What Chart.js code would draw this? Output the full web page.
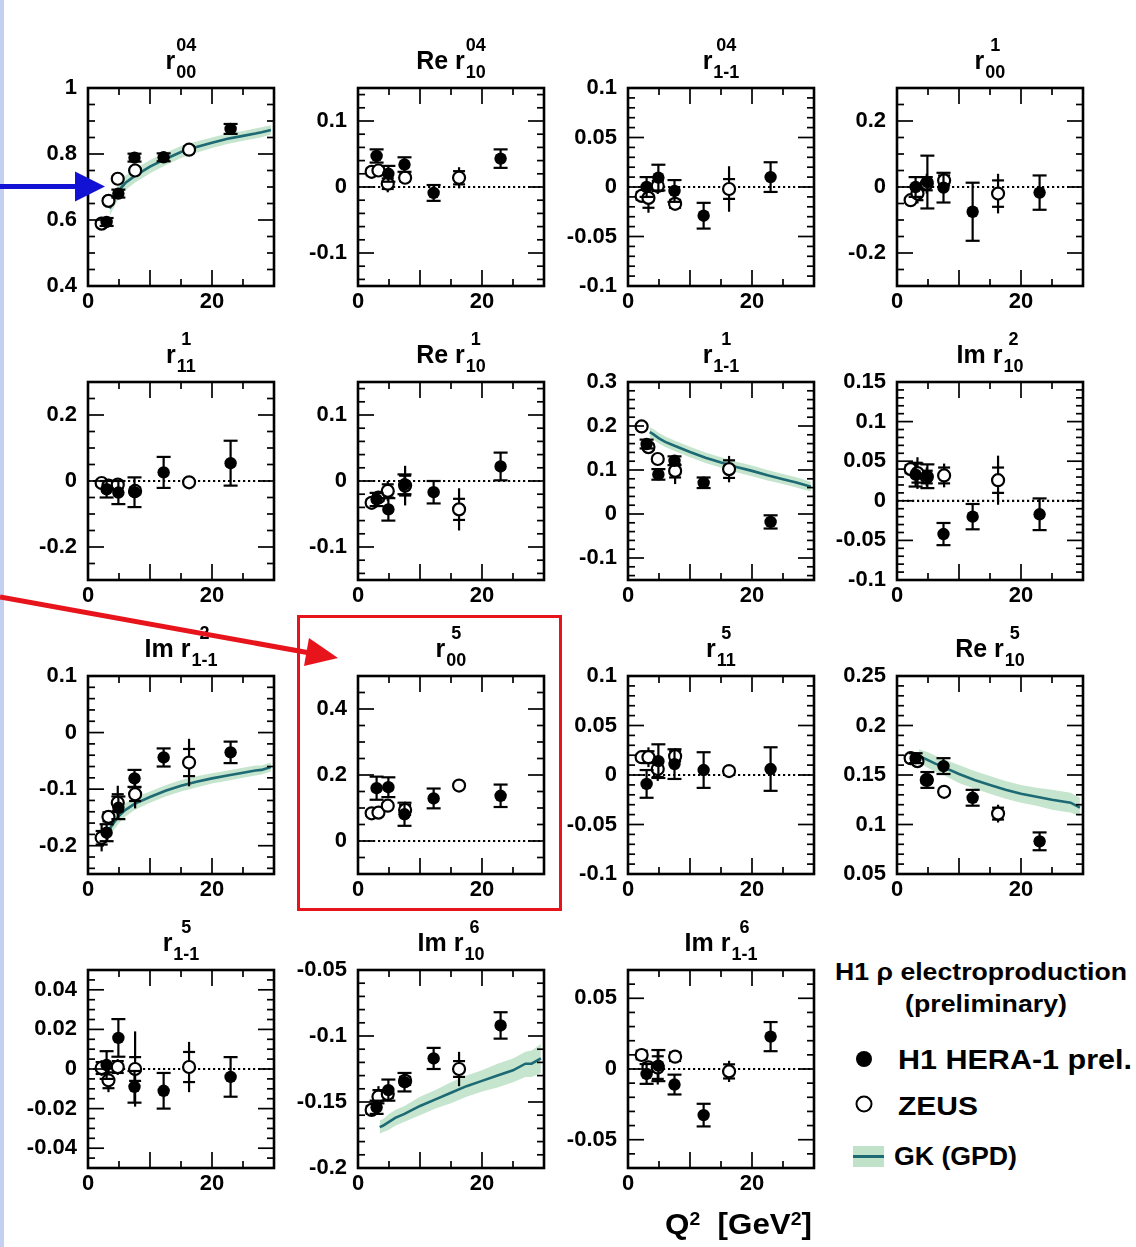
<!DOCTYPE html>
<html>
<head>
<meta charset="utf-8">
<title>H1 rho electroproduction SDMEs vs Q2</title>
<script src="https://cdn.jsdelivr.net/npm/chart.js@4.4.1/dist/chart.umd.min.js"></script>
<style>
  html, body { margin: 0; padding: 0; background: #fff; }
  #page { position: relative; width: 1136px; height: 1247px; overflow: hidden; background: #fff;
          font-family: "Liberation Sans", Arial, Helvetica, sans-serif; font-weight: bold; color: #000; }
  canvas.pane { position: absolute; }
  .ttl { position: absolute; display: flex; justify-content: center; align-items: flex-start; white-space: nowrap; }
  .ttl .main { font-size: 25px; line-height: 25px; margin-top: 15px; }
  .ttl .scr { display: flex; flex-direction: column; align-items: center; font-size: 18px; line-height: 18px;
              margin-top: 3px; gap: 9px; margin-left: 1px; }
  .txt { position: absolute; white-space: nowrap; transform-origin: 0 0; }
  .txt sup { position: relative; top: -0.48em; font-size: 0.62em; vertical-align: baseline; line-height: 0; }
  #marks { position: absolute; left: 0; top: 0; pointer-events: none; }
</style>
</head>
<body>
<div id="page"></div>
<script>
// ---------------- data ----------------
// Q2 bin centres (GeV^2)
const q2H1   = [3.0, 4.9, 7.5, 12.2, 23.0];
const q2ZEUS = [2.2, 3.3, 4.8, 7.6, 16.3];
const q2GK   = [3.5, 4, 5, 6, 7.5, 10, 12.5, 15, 17.5, 20, 22.5, 25, 27, 28, 29.5];

// x axis ticks (labelled only at 0 and 20)
const xTickVals   = [0, 10, 20, 30];
const xTickLabels = ['0', '', '20', ''];

// r^04_00
const yt_r04_00  = [0.4, 0.6, 0.8, 1];
const h1_r04_00  = [0.594, 0.680, 0.789, 0.790, 0.876];
const h1e_r04_00 = [0.012, 0.012, 0.012, 0.012, 0.015];
const zs_r04_00  = [0.589, 0.658, 0.725, 0.750, 0.813];
const zse_r04_00 = [0.012, 0.012, 0.012, 0.012, 0.015];
const zss_r04_00 = [0.008, 0.008, 0.008, 0.008, 0.010];
const gk_r04_00   = [0.635, 0.655, 0.690, 0.712, 0.733, 0.762, 0.785, 0.806, 0.821, 0.834, 0.846, 0.855, 0.862, 0.866, 0.873];
const gkLo_r04_00 = [0.612, 0.632, 0.667, 0.690, 0.712, 0.742, 0.766, 0.788, 0.804, 0.818, 0.830, 0.840, 0.847, 0.851, 0.859];
const gkHi_r04_00 = [0.658, 0.678, 0.713, 0.734, 0.754, 0.782, 0.804, 0.824, 0.838, 0.850, 0.862, 0.870, 0.877, 0.881, 0.887];

// Re r^04_10
const yt_re04_10  = [-0.1, 0, 0.1];
const h1_re04_10  = [0.047, 0.020, 0.034, -0.009, 0.043];
const h1e_re04_10 = [0.010, 0.012, 0.011, 0.012, 0.014];
const zs_re04_10  = [0.023, 0.025, 0.005, 0.014, 0.014];
const zse_re04_10 = [0.008, 0.008, 0.013, 0.008, 0.016];
const zss_re04_10 = [0.005, 0.005, 0.008, 0.005, 0.010];

// r^04_1-1
const yt_r04_1m1  = [-0.1, -0.05, 0, 0.05, 0.1];
const h1_r04_1m1  = [0.000, 0.0095, -0.004, -0.029, 0.010];
const h1e_r04_1m1 = [0.010, 0.013, 0.011, 0.013, 0.015];
const zs_r04_1m1  = [-0.009, -0.011, 0.001, -0.017, -0.002];
const zse_r04_1m1 = [0.006, 0.015, 0.008, 0.006, 0.023];
const zss_r04_1m1 = [0.004, 0.010, 0.005, 0.004, 0.010];

// r^1_00
const yt_r1_00  = [-0.2, 0, 0.2];
const h1_r1_00  = [0.000, 0.015, -0.002, -0.075, -0.017];
const h1e_r1_00 = [0.030, 0.080, 0.045, 0.088, 0.052];
const zs_r1_00  = [-0.040, -0.020, 0.010, 0.020, -0.020];
const zse_r1_00 = [0.012, 0.030, 0.030, 0.025, 0.060];
const zss_r1_00 = [0.008, 0.020, 0.020, 0.015, 0.040];

// r^1_11
const yt_r1_11  = [-0.2, 0, 0.2];
const h1_r1_11  = [-0.025, -0.035, -0.034, 0.026, 0.054];
const h1e_r1_11 = [0.025, 0.035, 0.045, 0.047, 0.068];
const zs_r1_11  = [-0.006, -0.014, -0.011, -0.030, -0.004];
const zse_r1_11 = [0.012, 0.015, 0.015, 0.015, 0.012];
const zss_r1_11 = [0.008, 0.010, 0.010, 0.010, 0.008];

// Re r^1_10
const yt_re1_10  = [-0.1, 0, 0.1];
const h1_re1_10  = [-0.028, -0.043, -0.005, -0.017, 0.022];
const h1e_re1_10 = [0.010, 0.017, 0.015, 0.017, 0.021];
const zs_re1_10  = [-0.033, -0.025, -0.015, -0.007, -0.043];
const zse_re1_10 = [0.008, 0.008, 0.015, 0.030, 0.032];
const zss_re1_10 = [0.005, 0.005, 0.010, 0.015, 0.016];

// r^1_1-1
const yt_r1_1m1  = [-0.1, 0, 0.1, 0.2, 0.3];
const h1_r1_1m1  = [0.159, 0.090, 0.121, 0.071, -0.018];
const h1e_r1_1m1 = [0.010, 0.012, 0.010, 0.012, 0.015];
const zs_r1_1m1  = [0.199, 0.152, 0.125, 0.098, 0.102];
const zse_r1_1m1 = [0.010, 0.010, 0.010, 0.030, 0.030];
const zss_r1_1m1 = [0.006, 0.006, 0.006, 0.015, 0.020];
const gk_r1_1m1   = [0.186, 0.182, 0.172, 0.164, 0.155, 0.141, 0.128, 0.117, 0.107, 0.098, 0.088, 0.079, 0.072, 0.068, 0.062];
const gkLo_r1_1m1 = [0.174, 0.170, 0.160, 0.152, 0.143, 0.129, 0.116, 0.105, 0.095, 0.086, 0.076, 0.068, 0.061, 0.057, 0.051];
const gkHi_r1_1m1 = [0.198, 0.194, 0.184, 0.176, 0.167, 0.153, 0.140, 0.129, 0.119, 0.110, 0.100, 0.091, 0.084, 0.080, 0.073];

// Im r^2_10
const yt_im2_10  = [-0.1, -0.05, 0, 0.05, 0.1, 0.15];
const h1_im2_10  = [0.033, 0.031, -0.042, -0.020, -0.017];
const h1e_im2_10 = [0.015, 0.015, 0.014, 0.016, 0.020];
const zs_im2_10  = [0.040, 0.035, 0.030, 0.032, 0.026];
const zse_im2_10 = [0.008, 0.020, 0.012, 0.015, 0.031];
const zss_im2_10 = [0.005, 0.012, 0.008, 0.010, 0.016];

// Im r^2_1-1
const yt_im2_1m1  = [-0.2, -0.1, 0, 0.1];
const h1_im2_1m1  = [-0.177, -0.133, -0.081, -0.044, -0.035];
const h1e_im2_1m1 = [0.015, 0.020, 0.015, 0.016, 0.019];
const zs_im2_1m1  = [-0.186, -0.149, -0.124, -0.109, -0.053];
const zse_im2_1m1 = [0.024, 0.012, 0.030, 0.025, 0.042];
const zss_im2_1m1 = [0.012, 0.008, 0.015, 0.012, 0.024];
const gk_im2_1m1   = [-0.170, -0.162, -0.147, -0.137, -0.126, -0.114, -0.103, -0.094, -0.087, -0.081, -0.076, -0.071, -0.067, -0.066, -0.061];
const gkLo_im2_1m1 = [-0.183, -0.175, -0.160, -0.149, -0.137, -0.124, -0.113, -0.104, -0.097, -0.090, -0.085, -0.080, -0.076, -0.074, -0.069];
const gkHi_im2_1m1 = [-0.157, -0.149, -0.134, -0.125, -0.115, -0.104, -0.093, -0.084, -0.077, -0.072, -0.067, -0.062, -0.058, -0.058, -0.053];

// r^5_00
const yt_r5_00  = [0, 0.2, 0.4];
const h1_r5_00  = [0.160, 0.163, 0.081, 0.129, 0.137];
const h1e_r5_00 = [0.035, 0.030, 0.035, 0.030, 0.034];
const zs_r5_00  = [0.084, 0.086, 0.107, 0.094, 0.168];
const zse_r5_00 = [0.012, 0.012, 0.012, 0.025, 0.012];
const zss_r5_00 = [0.008, 0.008, 0.008, 0.015, 0.008];

// r^5_11
const yt_r5_11  = [-0.1, -0.05, 0, 0.05, 0.1];
const h1_r5_11  = [-0.009, 0.014, 0.011, 0.005, 0.006];
const h1e_r5_11 = [0.014, 0.017, 0.015, 0.018, 0.022];
const zs_r5_11  = [0.018, 0.018, 0.006, 0.019, 0.004];
const zse_r5_11 = [0.005, 0.010, 0.012, 0.008, 0.005];
const zss_r5_11 = [0.003, 0.006, 0.008, 0.005, 0.003];

// Re r^5_10
const yt_re5_10  = [0.05, 0.1, 0.15, 0.2, 0.25];
const h1_re5_10  = [0.167, 0.145, 0.159, 0.127, 0.083];
const h1e_re5_10 = [0.005, 0.008, 0.008, 0.008, 0.009];
const zs_re5_10  = [0.167, 0.164, 0.145, 0.133, 0.111];
const zse_re5_10 = [0.005, 0.005, 0.005, 0.005, 0.009];
const zss_re5_10 = [0.003, 0.003, 0.003, 0.003, 0.006];
const gk_re5_10   = [0.169, 0.168, 0.165, 0.162, 0.158, 0.151, 0.145, 0.140, 0.135, 0.131, 0.128, 0.125, 0.123, 0.122, 0.117];
const gkLo_re5_10 = [0.162, 0.161, 0.157, 0.154, 0.150, 0.142, 0.136, 0.131, 0.126, 0.122, 0.119, 0.115, 0.113, 0.112, 0.108];
const gkHi_re5_10 = [0.176, 0.175, 0.173, 0.170, 0.166, 0.160, 0.154, 0.149, 0.144, 0.140, 0.137, 0.135, 0.133, 0.132, 0.127];

// r^5_1-1
const yt_r5_1m1  = [-0.04, -0.02, 0, 0.02, 0.04];
const h1_r5_1m1  = [0.002, 0.0157, -0.009, -0.011, -0.004];
const h1e_r5_1m1 = [0.007, 0.0095, 0.008, 0.009, 0.010];
const zs_r5_1m1  = [0.0005, -0.0057, 0.001, 0.000, 0.001];
const zse_r5_1m1 = [0.004, 0.006, 0.004, 0.019, 0.0127];
const zss_r5_1m1 = [0.003, 0.004, 0.003, 0.006, 0.0076];

// Im r^6_10
const yt_im6_10  = [-0.2, -0.15, -0.1, -0.05];
const h1_im6_10  = [-0.154, -0.141, -0.135, -0.117, -0.092];
const h1e_im6_10 = [0.005, 0.008, 0.007, 0.008, 0.010];
const zs_im6_10  = [-0.156, -0.146, -0.144, -0.134, -0.125];
const zse_im6_10 = [0.004, 0.008, 0.005, 0.005, 0.013];
const zss_im6_10 = [0.003, 0.005, 0.003, 0.003, 0.006];
const gk_im6_10   = [-0.169, -0.168, -0.165, -0.162, -0.159, -0.153, -0.148, -0.143, -0.138, -0.134, -0.130, -0.126, -0.121, -0.121, -0.117];
const gkLo_im6_10 = [-0.174, -0.173, -0.171, -0.168, -0.165, -0.160, -0.155, -0.151, -0.146, -0.142, -0.139, -0.135, -0.131, -0.131, -0.128];
const gkHi_im6_10 = [-0.164, -0.163, -0.159, -0.156, -0.153, -0.146, -0.141, -0.135, -0.130, -0.126, -0.121, -0.117, -0.112, -0.111, -0.106];

// Im r^6_1-1
const yt_im6_1m1  = [-0.05, 0, 0.05];
const h1_im6_1m1  = [-0.0035, 0.0024, -0.011, -0.0326, 0.0229];
const h1e_im6_1m1 = [0.007, 0.011, 0.007, 0.008, 0.0103];
const zs_im6_1m1  = [0.0099, 0.0012, 0.001, 0.0087, -0.0017];
const zse_im6_1m1 = [0.004, 0.004, 0.012, 0.004, 0.0075];
const zss_im6_1m1 = [0.003, 0.003, 0.008, 0.003, 0.005];

// ---------------- panel setup ----------------
const panels = [
  { title: ['r', '04', '00'],     col: 0, row: 0, yMin: 0.4,   yMax: 1,     minor: 0.05,  zero: false, yt: yt_r04_00,  h1: h1_r04_00,  h1e: h1e_r04_00,  zs: zs_r04_00,  zse: zse_r04_00,  zss: zss_r04_00, gk: gk_r04_00, gkLo: gkLo_r04_00, gkHi: gkHi_r04_00 },
  { title: ['Re r', '04', '10'],  col: 1, row: 0, yMin: -0.15, yMax: 0.15,  minor: 0.02,  zero: true,  yt: yt_re04_10, h1: h1_re04_10, h1e: h1e_re04_10, zs: zs_re04_10, zse: zse_re04_10, zss: zss_re04_10 },
  { title: ['r', '04', '1-1'],    col: 2, row: 0, yMin: -0.1,  yMax: 0.1,   minor: 0.01,  zero: true,  yt: yt_r04_1m1, h1: h1_r04_1m1, h1e: h1e_r04_1m1, zs: zs_r04_1m1, zse: zse_r04_1m1, zss: zss_r04_1m1 },
  { title: ['r', '1', '00'],      col: 3, row: 0, yMin: -0.3,  yMax: 0.3,   minor: 0.05,  zero: true,  yt: yt_r1_00,   h1: h1_r1_00,   h1e: h1e_r1_00,   zs: zs_r1_00,   zse: zse_r1_00,   zss: zss_r1_00 },
  { title: ['r', '1', '11'],      col: 0, row: 1, yMin: -0.3,  yMax: 0.3,   minor: 0.05,  zero: true,  yt: yt_r1_11,   h1: h1_r1_11,   h1e: h1e_r1_11,   zs: zs_r1_11,   zse: zse_r1_11,   zss: zss_r1_11 },
  { title: ['Re r', '1', '10'],   col: 1, row: 1, yMin: -0.15, yMax: 0.15,  minor: 0.02,  zero: true,  yt: yt_re1_10,  h1: h1_re1_10,  h1e: h1e_re1_10,  zs: zs_re1_10,  zse: zse_re1_10,  zss: zss_re1_10 },
  { title: ['r', '1', '1-1'],     col: 2, row: 1, yMin: -0.15, yMax: 0.3,   minor: 0.02,  zero: false, yt: yt_r1_1m1,  h1: h1_r1_1m1,  h1e: h1e_r1_1m1,  zs: zs_r1_1m1,  zse: zse_r1_1m1,  zss: zss_r1_1m1, gk: gk_r1_1m1, gkLo: gkLo_r1_1m1, gkHi: gkHi_r1_1m1 },
  { title: ['Im r', '2', '10'],   col: 3, row: 1, yMin: -0.1,  yMax: 0.15,  minor: 0.01,  zero: true,  yt: yt_im2_10,  h1: h1_im2_10,  h1e: h1e_im2_10,  zs: zs_im2_10,  zse: zse_im2_10,  zss: zss_im2_10 },
  { title: ['Im r', '2', '1-1'],  col: 0, row: 2, yMin: -0.25, yMax: 0.1,   minor: 0.02,  zero: false, yt: yt_im2_1m1, h1: h1_im2_1m1, h1e: h1e_im2_1m1, zs: zs_im2_1m1, zse: zse_im2_1m1, zss: zss_im2_1m1, gk: gk_im2_1m1, gkLo: gkLo_im2_1m1, gkHi: gkHi_im2_1m1 },
  { title: ['r', '5', '00'],      col: 1, row: 2, yMin: -0.1,  yMax: 0.5,   minor: 0.05,  zero: true,  yt: yt_r5_00,   h1: h1_r5_00,   h1e: h1e_r5_00,   zs: zs_r5_00,   zse: zse_r5_00,   zss: zss_r5_00 },
  { title: ['r', '5', '11'],      col: 2, row: 2, yMin: -0.1,  yMax: 0.1,   minor: 0.01,  zero: true,  yt: yt_r5_11,   h1: h1_r5_11,   h1e: h1e_r5_11,   zs: zs_r5_11,   zse: zse_r5_11,   zss: zss_r5_11 },
  { title: ['Re r', '5', '10'],   col: 3, row: 2, yMin: 0.05,  yMax: 0.25,  minor: 0.01,  zero: false, yt: yt_re5_10,  h1: h1_re5_10,  h1e: h1e_re5_10,  zs: zs_re5_10,  zse: zse_re5_10,  zss: zss_re5_10, gk: gk_re5_10, gkLo: gkLo_re5_10, gkHi: gkHi_re5_10 },
  { title: ['r', '5', '1-1'],     col: 0, row: 3, yMin: -0.05, yMax: 0.05,  minor: 0.005, zero: true,  yt: yt_r5_1m1,  h1: h1_r5_1m1,  h1e: h1e_r5_1m1,  zs: zs_r5_1m1,  zse: zse_r5_1m1,  zss: zss_r5_1m1 },
  { title: ['Im r', '6', '10'],   col: 1, row: 3, yMin: -0.2,  yMax: -0.05, minor: 0.01,  zero: false, yt: yt_im6_10,  h1: h1_im6_10,  h1e: h1e_im6_10,  zs: zs_im6_10,  zse: zse_im6_10,  zss: zss_im6_10, gk: gk_im6_10, gkLo: gkLo_im6_10, gkHi: gkHi_im6_10 },
  { title: ['Im r', '6', '1-1'],  col: 2, row: 3, yMin: -0.07, yMax: 0.07,  minor: 0.01,  zero: true,  yt: yt_im6_1m1, h1: h1_im6_1m1, h1e: h1e_im6_1m1, zs: zs_im6_1m1, zse: zse_im6_1m1, zss: zss_im6_1m1 }
];

// frame geometry of the 4x4 grid
const FRAME_L = [88, 358, 628, 897];
const FRAME_T = [88, 382, 676, 970];
const FRAME_W = 186, FRAME_H = 198;
const AX_W = 80, AX_H = 40, PAD_T = 28, PAD_R = 12;
const TICK_FONT = 22;

const GK_LINE = '#1d6a74';
const GK_BAND = 'rgba(150, 208, 165, 0.55)';

Chart.defaults.font.family = "'Liberation Sans', Arial, Helvetica, sans-serif";
Chart.defaults.font.weight = 'bold';
Chart.defaults.font.size = TICK_FONT;
Chart.defaults.color = '#000';

const page = document.getElementById('page');

// error bars: H1 with end caps, ZEUS with small stat ticks
const errorBars = {
  id: 'errorBars',
  beforeDatasetDraw(chart, args) {
    const ds = chart.data.datasets[args.index];
    if (!ds.errs) return;
    const { ctx, chartArea } = chart;
    const xs = chart.scales.x, ys = chart.scales.y;
    ctx.save();
    ctx.beginPath();
    ctx.rect(chartArea.left, chartArea.top, chartArea.right - chartArea.left, chartArea.bottom - chartArea.top);
    ctx.clip();
    ctx.strokeStyle = '#000';
    ctx.lineWidth = 2.2;
    const seg = (x1, y1, x2, y2) => { ctx.beginPath(); ctx.moveTo(x1, y1); ctx.lineTo(x2, y2); ctx.stroke(); };
    ds.data.forEach((p, i) => {
      const px = xs.getPixelForValue(p.x);
      const e = ds.errs[i];
      const yLo = ys.getPixelForValue(p.y - e), yHi = ys.getPixelForValue(p.y + e);
      seg(px, yLo, px, yHi);
      if (ds.caps) { seg(px - 7, yLo, px + 7, yLo); seg(px - 7, yHi, px + 7, yHi); }
      if (ds.stat) {
        const s = ds.stat[i];
        const sLo = ys.getPixelForValue(p.y - s), sHi = ys.getPixelForValue(p.y + s);
        seg(px - 6, sLo, px + 6, sLo); seg(px - 6, sHi, px + 6, sHi);
      }
    });
    ctx.restore();
  }
};

function framePlugin(p) {
  return {
    id: 'frame',
    beforeDatasetsDraw(chart) {
      if (!p.zero) return;
      const { ctx, chartArea } = chart;
      const y0 = chart.scales.y.getPixelForValue(0);
      ctx.save();
      ctx.strokeStyle = '#000';
      ctx.lineWidth = 2.2;
      ctx.setLineDash([2.2, 2.8]);
      ctx.beginPath();
      ctx.moveTo(chartArea.left, y0);
      ctx.lineTo(chartArea.right, y0);
      ctx.stroke();
      ctx.restore();
    },
    afterDatasetsDraw(chart) {
      const { ctx, chartArea: a } = chart;
      const xs = chart.scales.x, ys = chart.scales.y;
      ctx.save();
      ctx.strokeStyle = '#000';
      ctx.lineWidth = 1.7;
      const seg = (x1, y1, x2, y2) => { ctx.beginPath(); ctx.moveTo(x1, y1); ctx.lineTo(x2, y2); ctx.stroke(); };
      // y ticks on both sides, pointing inwards
      const i0 = Math.ceil(p.yMin / p.minor - 1e-6), i1 = Math.floor(p.yMax / p.minor + 1e-6);
      for (let i = i0; i <= i1; i++) {
        const v = i * p.minor;
        const major = p.yt.some(t => Math.abs(t - v) < p.minor * 0.01);
        const len = major ? 16 : 7;
        const py = ys.getPixelForValue(v);
        seg(a.left, py, a.left + len, py);
        seg(a.right, py, a.right - len, py);
      }
      // x ticks top and bottom
      for (let v = 5; v < 30; v += 5) {
        const len = v % 10 === 0 ? 16 : 7;
        const px = xs.getPixelForValue(v);
        seg(px, a.bottom, px, a.bottom - len);
        seg(px, a.top, px, a.top + len);
      }
      ctx.lineWidth = 2.6;
      ctx.strokeRect(a.left, a.top, a.right - a.left, a.bottom - a.top);
      ctx.restore();
    }
  };
}

function pts(xv, yv) { return xv.map((x, i) => ({ x, y: yv[i] })); }

panels.forEach(p => {
  const cv = document.createElement('canvas');
  cv.className = 'pane';
  const w = AX_W + FRAME_W + PAD_R, h = PAD_T + FRAME_H + AX_H;
  cv.width = w; cv.height = h;
  cv.style.width = w + 'px'; cv.style.height = h + 'px';
  cv.style.left = (FRAME_L[p.col] - AX_W) + 'px';
  cv.style.top = (FRAME_T[p.row] - PAD_T) + 'px';
  page.appendChild(cv);

  const datasets = [
    { label: 'H1 HERA-1 prel.', data: pts(q2H1, p.h1), showLine: false, order: 0,
      pointRadius: 6.2, pointHoverRadius: 6.2, pointBackgroundColor: '#000', pointBorderColor: '#000', pointBorderWidth: 0,
      errs: p.h1e, caps: true },
    { label: 'ZEUS', data: pts(q2ZEUS, p.zs), showLine: false, order: 1,
      pointRadius: 6, pointHoverRadius: 6, pointBackgroundColor: '#fff', pointBorderColor: '#000', pointBorderWidth: 2.2,
      errs: p.zse, stat: p.zss }
  ];
  if (p.gk) {
    datasets.push(
      { label: 'GK (GPD)', data: pts(q2GK, p.gk), order: 2, borderColor: GK_LINE, borderWidth: 2.6, pointRadius: 0, fill: false },
      { label: 'GK upper', data: pts(q2GK, p.gkHi), order: 3, borderWidth: 0, borderColor: 'rgba(0,0,0,0)', pointRadius: 0, fill: '+1', backgroundColor: GK_BAND },
      { label: 'GK lower', data: pts(q2GK, p.gkLo), order: 4, borderWidth: 0, borderColor: 'rgba(0,0,0,0)', pointRadius: 0, fill: false }
    );
  }

  new Chart(cv, {
    type: 'line',
    data: { datasets },
    options: {
      responsive: false, animation: false, devicePixelRatio: 1,
      events: [],
      layout: { padding: { left: 0, right: PAD_R, top: PAD_T, bottom: 0 } },
      plugins: { legend: { display: false }, tooltip: { enabled: false }, title: { display: false } },
      scales: {
        x: {
          type: 'linear', min: 0, max: 30,
          grid: { display: false, drawTicks: false }, border: { display: false },
          afterBuildTicks: s => { s.ticks = xTickVals.map(v => ({ value: v })); },
          afterFit: s => { s.height = AX_H; },
          ticks: { autoSkip: false, maxRotation: 0, padding: 3, font: { size: TICK_FONT, weight: 'bold' },
                   callback: v => xTickLabels[xTickVals.indexOf(v)] }
        },
        y: {
          type: 'linear', min: p.yMin, max: p.yMax,
          grid: { display: false, drawTicks: false }, border: { display: false },
          afterBuildTicks: s => { s.ticks = p.yt.map(v => ({ value: v })); },
          afterFit: s => { s.width = AX_W; },
          ticks: { autoSkip: false, padding: 11, font: { size: TICK_FONT, weight: 'bold' },
                   callback: v => String(v) }
        }
      }
    },
    plugins: [errorBars, framePlugin(p)]
  });

  // panel title: symbol with stacked super/subscript
  const t = document.createElement('div');
  t.className = 'ttl';
  t.style.left = FRAME_L[p.col] + 'px';
  t.style.top = (FRAME_T[p.row] - 55) + 'px';
  t.style.width = FRAME_W + 'px';
  t.innerHTML = `<span class="main">${p.title[0]}</span><span class="scr"><span>${p.title[1]}</span><span>${p.title[2]}</span></span>`;
  page.appendChild(t);
});

// free text (legend, axis title); baseline-positioned, optionally stretched to a width
function addText(html, x, base, size, width, anchor) {
  const d = document.createElement('div');
  d.className = 'txt';
  d.style.fontSize = size + 'px';
  d.style.lineHeight = size + 'px';
  d.style.top = (base - 0.8465 * size) + 'px';
  d.style.left = '0px';
  d.innerHTML = html;
  page.appendChild(d);
  const nat = d.getBoundingClientRect().width;
  const target = width || nat;
  d.style.transform = `scaleX(${target / nat})`;
  d.style.left = (anchor === 'center' ? x - target / 2 : x) + 'px';
}

addText('H1 &rho; electroproduction', 835, 980, 24, 292);
addText('(preliminary)', 986, 1012, 24, 162, 'center');
addText('H1 HERA-1 prel.', 898, 1070, 28, 234);
addText('ZEUS', 898, 1115, 26, 80);
addText('GK (GPD)', 894, 1165, 25, 123);
addText('Q<sup>2</sup>&nbsp; [GeV<sup>2</sup>]', 665, 1234, 30, 147);

// legend markers and slide annotations
const svgNS = 'http://www.w3.org/2000/svg';
const svg = document.createElementNS(svgNS, 'svg');
svg.setAttribute('id', 'marks');
svg.setAttribute('width', '1136');
svg.setAttribute('height', '1247');
svg.innerHTML = `
  <rect x="0" y="0" width="4" height="1247" fill="#c3d0f2"/>
  <circle cx="864" cy="1059" r="8" fill="#000"/>
  <circle cx="864" cy="1104" r="7.5" fill="#fff" stroke="#000" stroke-width="2"/>
  <rect x="853" y="1146" width="31" height="21" fill="#bfe2c8"/>
  <line x1="853" y1="1156.5" x2="884" y2="1156.5" stroke="${GK_LINE}" stroke-width="3"/>
  <line x1="0" y1="186.5" x2="77" y2="186.5" stroke="#1212d4" stroke-width="5"/>
  <polygon points="75,171.5 75,201.5 105,186.5" fill="#1212d4"/>
  <rect x="298.5" y="616.5" width="262" height="293" fill="none" stroke="#e8141b" stroke-width="3"/>
  <line x1="0" y1="597" x2="310" y2="653" stroke="#e8141b" stroke-width="5"/>
  <polygon points="338,658 304,666 309,638" fill="#e8141b"/>
`;
page.appendChild(svg);
</script>
</body>
</html>
